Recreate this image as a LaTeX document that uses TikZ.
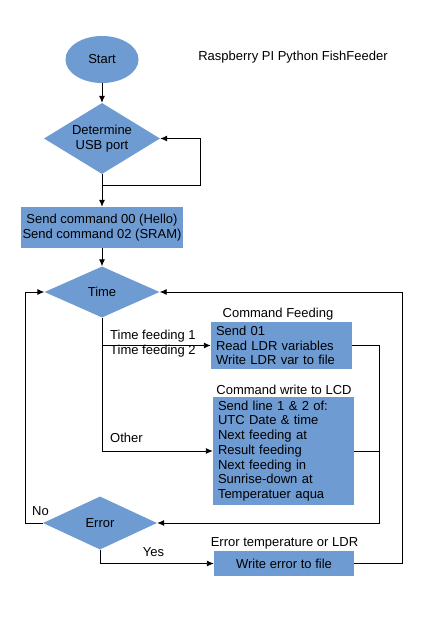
\documentclass[tikz,border=0pt]{standalone}
\usepackage{fontspec}
\setmainfont{Liberation Sans}
\usetikzlibrary{shapes.geometric,arrows.meta}
\definecolor{boxblue}{HTML}{6E9BD2}
\begin{document}
\begin{tikzpicture}[x=1pt,y=-1pt,
  every node/.style={font=\fontsize{13}{14.7}\selectfont, text=black},
  flow/.style={line width=0.9pt, draw=black},
  arr/.style={flow, -{Latex[length=7pt,width=6pt]}},
  procbox/.style={rectangle, fill=boxblue, inner sep=0pt},
  decision/.style={diamond, fill=boxblue, inner sep=0pt, align=center},
  lbl/.style={inner sep=0pt}
]
\useasboundingbox (0,0) rectangle (438,620);
\fill[white] (0,0) rectangle (438,620);

\node[ellipse, fill=boxblue, minimum width=73pt, minimum height=47pt, inner sep=0pt] (start) at (102,59.5) {Start};
\node[lbl] (title) at (293,57) {Raspberry PI Python FishFeeder};

\node[decision, aspect=1.63, minimum width=116pt, minimum height=71pt] (det) at (102,138.5) {Determine\\USB port};

\node[procbox, minimum width=162pt, minimum height=41pt, align=center] (send) at (102,227.5) {Send command 00 (Hello)\\Send command 02 (SRAM)};

\node[decision, aspect=2.25, minimum width=115pt, minimum height=51pt] (time) at (102,292) {Time};

\node[lbl] (cfl) at (278,314) {Command Feeding};
\node[procbox, minimum width=141pt, minimum height=47pt, text width=131pt, align=left] (feed) at (281.5,345.5) {Send 01\\Read LDR variables\\Write LDR var to file};

\node[lbl] (cll) at (284,390) {Command write to LCD};
\node[procbox, minimum width=141pt, minimum height=108pt, text width=131pt, align=left] (lcd) at (283.5,451) {Send line 1 \& 2 of:\\UTC Date \& time\\Next feeding at\\Result feeding\\Next feeding in\\Sunrise-down at\\Temperatuer aqua};

\node[decision, aspect=2.15, minimum width=114pt, minimum height=53pt] (err) at (100,523) {Error};

\node[lbl] (ell) at (284.5,543) {Error temperature or LDR};
\node[procbox, minimum width=140pt, minimum height=25pt] (wr) at (284,563.5) {Write error to file};

\node[lbl, anchor=west, align=left] (tf) at (110,343.5) {Time feeding 1\\Time feeding 2};
\node[lbl, anchor=west] (oth) at (110,438) {Other};
\node[lbl] (no) at (40.5,511) {No};
\node[lbl] (yes) at (153.5,552) {Yes};

\coordinate (j1) at (102,185);
\coordinate (j2) at (102,345.5);
\coordinate (j3) at (102,451);
\coordinate (r1) at (379,345.5);

% connectors
\draw[arr] (start) -- (det);
\draw[arr] (det.south) -- (j1) -- (200,185) -- (200,138.5) -- (det.east);
\draw[arr] (j1) -- (send.north);
\draw[arr] (send) -- (time);
\draw[flow] (time.south) -- (j3);
\draw[arr] (j2) -- (feed.west);
\draw[arr] (j3) -- (lcd.west);
\draw[arr] (feed.east) -- (r1) -- (379,523) -- (err.east);
\draw[flow] (lcd.east) -- (379,451);
\draw[arr] (err.west) -- (25,523) -- (25,292) -- (time.west);
\draw[arr] (err.south) -- (100,563.5) -- (wr.west);
\draw[arr] (wr.east) -- (402,563.5) -- (402,292) -- (time.east);
\end{tikzpicture}
\end{document}
